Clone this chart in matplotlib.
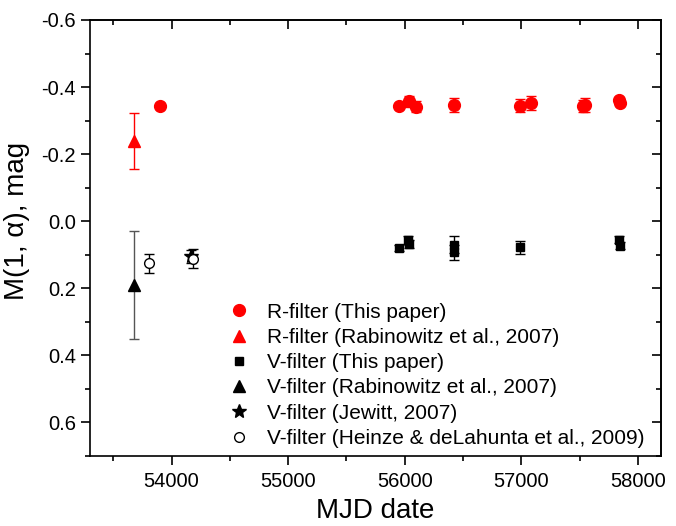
import numpy as np
import matplotlib
matplotlib.use('Agg')
import matplotlib.pyplot as plt
from matplotlib.ticker import MultipleLocator

plt.rcParams['font.family'] = ['Liberation Sans', 'DejaVu Sans']
plt.rcParams['axes.unicode_minus'] = False

# R-filter, this paper
r_mjd = [53900, 55955, 56040, 56100, 56425, 56988, 57080, 57530, 57545, 57835, 57845]
r_mag = [-0.345, -0.345, -0.357, -0.342, -0.347, -0.345, -0.352, -0.343, -0.347, -0.360, -0.352]
r_err = [0.0, 0.0, 0.016, 0.015, 0.020, 0.020, 0.020, 0.018, 0.020, 0.0, 0.0]

# R-filter, Rabinowitz et al. 2007
rr_mjd = [53675]
rr_mag = [-0.24]
rr_err = [0.083]

# V-filter, this paper
v_mjd = [55955, 56030, 56035, 56420, 56425, 56988, 57838, 57843]
v_mag = [0.080, 0.055, 0.068, 0.070, 0.093, 0.078, 0.055, 0.073]
v_err = [0.010, 0.012, 0.012, 0.025, 0.022, 0.020, 0.010, 0.010]

# V-filter, Rabinowitz et al. 2007
vr_mjd = [53675]
vr_mag = [0.19]
vr_err = [0.16]

# V-filter, Jewitt 2007
vj_mjd = [54165]
vj_mag = [0.105]
vj_err = [0.02]

# V-filter, Heinze & deLahunta 2009
vh_mjd = [53803, 54181]
vh_mag = [0.125, 0.112]
vh_err = [0.028, 0.028]

red = '#ff0000'

fig = plt.figure(figsize=(6.76, 5.26), dpi=100)
ax = fig.add_axes([0.133, 0.133, 0.845, 0.829])

kw = dict(linestyle='none', elinewidth=1, capsize=3.5, capthick=1)
ax.errorbar(r_mjd, r_mag, yerr=r_err, fmt='o', color=red, ms=8.5,
            label='R-filter (This paper)', **kw)
ax.errorbar(rr_mjd, rr_mag, yerr=rr_err, fmt='^', color=red, ms=9,
            label='R-filter (Rabinowitz et al., 2007)', **kw)
ax.errorbar(v_mjd, v_mag, yerr=v_err, fmt='s', color='black', ms=6,
            label='V-filter (This paper)', **kw)
ax.errorbar(vr_mjd, vr_mag, yerr=vr_err, fmt='^', color='black', ms=9,
            ecolor='#555555', label='V-filter (Rabinowitz et al., 2007)', **kw)
ax.errorbar(vj_mjd, vj_mag, yerr=vj_err, fmt='*', color='black', ms=10,
            label='V-filter (Jewitt, 2007)', **kw)
ax.errorbar(vh_mjd, vh_mag, yerr=vh_err, fmt='o', color='black', mfc='white',
            ms=7, mew=1, label='V-filter (Heinze & deLahunta et al., 2009)', **kw)

ax.set_xlim(53300, 58200)
ax.set_ylim(0.7, -0.6)
ax.xaxis.set_major_locator(MultipleLocator(1000))
ax.xaxis.set_minor_locator(MultipleLocator(500))
ax.yaxis.set_major_locator(MultipleLocator(0.2))
ax.yaxis.set_minor_locator(MultipleLocator(0.1))
ax.yaxis.set_major_formatter(plt.FuncFormatter(lambda v, p: f'{v:.1f}'))
ax.tick_params(which='major', direction='out', length=6.5, width=1.2, labelsize=14.5)
ax.tick_params(which='minor', direction='out', length=3.5, width=1.2)
ax.tick_params(axis='x', which='major', pad=5)
for s in ax.spines.values():
    s.set_linewidth(1.2)

top = ax.secondary_xaxis('top')
top.xaxis.set_major_locator(MultipleLocator(1000))
top.xaxis.set_minor_locator(MultipleLocator(500))
top.tick_params(which='major', direction='in', length=6.5, width=1.2, labeltop=False)
top.tick_params(which='minor', direction='in', length=3.5, width=1.2)
right = ax.secondary_yaxis('right')
right.yaxis.set_major_locator(MultipleLocator(0.2))
right.yaxis.set_minor_locator(MultipleLocator(0.1))
right.tick_params(which='major', direction='in', length=6.5, width=1.2, labelright=False)
right.tick_params(which='minor', direction='in', length=3.5, width=1.2)
for sax in (top, right):
    for s in sax.spines.values():
        s.set_linewidth(1.2)

ax.set_xlabel('MJD date', fontsize=20, labelpad=5)
ax.set_ylabel('M(1, α), mag', fontsize=20)
ax.yaxis.set_label_coords(-0.105, 0.54)

handles, labels = ax.get_legend_handles_labels()
handles = [h[0] for h in handles]
ax.legend(handles, labels, loc='upper left', bbox_to_anchor=(0.228, 0.371),
          frameon=False, fontsize=15, handlelength=1.0, handletextpad=0.85,
          labelspacing=0.3, borderaxespad=0)

fig.savefig('out.png', dpi=100)
